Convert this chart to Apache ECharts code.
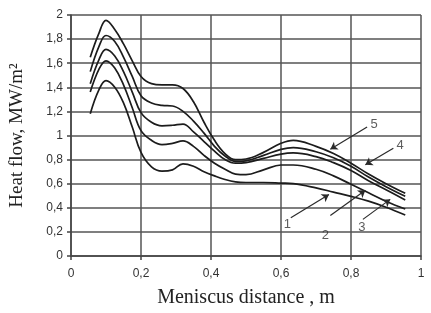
<!DOCTYPE html>
<html>
<head>
<meta charset="utf-8">
<script src="https://cdn.jsdelivr.net/npm/echarts@6/dist/echarts.min.js"></script>
<style>
  html, body { margin: 0; padding: 0; background: #fff; }
  #chart { width: 431px; height: 313px; }
</style>
</head>
<body>
<div id="chart"></div>
<script>
// Meniscus distance, m
const distance = [0.055, 0.08, 0.1, 0.125, 0.15, 0.175, 0.2, 0.23, 0.26, 0.29, 0.32, 0.35, 0.38,
  0.41, 0.44, 0.47, 0.5, 0.55, 0.6, 0.635, 0.7, 0.75, 0.8, 0.85, 0.9, 0.955];

// Heat flow, MW/m2 (curves 1..5)
const curve1 = [1.18, 1.38, 1.455, 1.40, 1.27, 1.07, 0.86, 0.74, 0.705, 0.715, 0.765, 0.745, 0.70,
  0.665, 0.635, 0.615, 0.61, 0.61, 0.605, 0.60, 0.565, 0.53, 0.495, 0.455, 0.405, 0.34];
const curve2 = [1.36, 1.55, 1.62, 1.56, 1.42, 1.23, 1.04, 0.96, 0.925, 0.935, 0.955, 0.91, 0.835,
  0.77, 0.72, 0.68, 0.675, 0.715, 0.755, 0.755, 0.72, 0.665, 0.595, 0.525, 0.455, 0.39];
const curve3 = [1.43, 1.63, 1.715, 1.66, 1.53, 1.36, 1.19, 1.11, 1.08, 1.085, 1.095, 1.03, 0.95,
  0.87, 0.80, 0.77, 0.775, 0.81, 0.845, 0.855, 0.825, 0.775, 0.71, 0.625, 0.55, 0.465];
const curve4 = [1.53, 1.74, 1.83, 1.78, 1.65, 1.49, 1.33, 1.27, 1.25, 1.245, 1.20, 1.12, 1.02,
  0.91, 0.83, 0.785, 0.79, 0.835, 0.885, 0.90, 0.865, 0.815, 0.745, 0.655, 0.575, 0.495];
const curve5 = [1.65, 1.85, 1.955, 1.88, 1.76, 1.62, 1.49, 1.43, 1.42, 1.42, 1.39, 1.28, 1.11,
  0.96, 0.85, 0.80, 0.805, 0.86, 0.935, 0.96, 0.91, 0.85, 0.77, 0.68, 0.60, 0.52];

const curveNames = ['1', '2', '3', '4', '5'];
const curves = [curve1, curve2, curve3, curve4, curve5];

// curve labels and leader arrows, in data units
const labelPos = [[0.618, 0.26], [0.727, 0.17], [0.831, 0.24], [0.94, 0.92], [0.866, 1.095]];
const arrowFrom = [[0.628, 0.318], [0.741, 0.337], [0.834, 0.304], [0.921, 0.895], [0.846, 1.07]];
const arrowTo = [[0.737, 0.51], [0.841, 0.545], [0.912, 0.47], [0.841, 0.757], [0.741, 0.886]];

const chart = echarts.init(document.getElementById('chart'), null, { renderer: 'canvas' });

const commaFmt = v => String(v).replace('.', ',');
const tickFont = { fontFamily: 'Liberation Sans, Arial, sans-serif', fontSize: 12, color: '#333' };

const series = curves.map((vals, i) => ({
  name: curveNames[i],
  type: 'line',
  smooth: 0.4,
  symbol: 'none',
  data: distance.map((x, j) => [x, vals[j]]),
  lineStyle: { color: '#1c1c1c', width: 1.7 },
  z: 3,
  markLine: {
    silent: true,
    symbol: ['none', 'arrow'],
    symbolSize: 7,
    label: { show: false },
    lineStyle: { color: '#2a2a2a', width: 1.2, type: 'solid' },
    itemStyle: { color: '#2a2a2a' },
    data: [[{ coord: arrowFrom[i] }, { coord: arrowTo[i] }]]
  }
}));

series.push({
  type: 'scatter',
  symbolSize: 0,
  silent: true,
  data: labelPos.map((p, i) => ({ value: p, name: curveNames[i] })),
  label: {
    show: true,
    position: 'inside',
    formatter: p => p.name,
    fontFamily: 'Liberation Sans, Arial, sans-serif',
    fontSize: 13,
    color: '#333'
  }
});

const option = {
  animation: false,
  backgroundColor: '#fff',
  grid: { left: 69, right: 10, top: 15, bottom: 56 },
  xAxis: {
    type: 'value',
    min: 0,
    max: 1,
    interval: 0.2,
    name: 'Meniscus distance , m',
    nameLocation: 'middle',
    nameGap: 32,
    nameTextStyle: { fontFamily: 'Liberation Serif, Times New Roman, serif', fontSize: 20, color: '#222' },
    axisLine: { lineStyle: { color: '#444', width: 1.5 } },
    axisTick: { show: true, length: 4, lineStyle: { color: '#444', width: 1.5 } },
    axisLabel: Object.assign({ margin: 12, formatter: commaFmt }, tickFont),
    splitLine: { show: true, lineStyle: { color: '#555', width: 1.5 } }
  },
  yAxis: {
    type: 'value',
    min: 0,
    max: 2,
    interval: 0.2,
    name: 'Heat flow, MW/m\u00b2',
    nameLocation: 'middle',
    nameGap: 44,
    nameTextStyle: { fontFamily: 'Liberation Serif, Times New Roman, serif', fontSize: 19, color: '#222' },
    axisLine: { show: true, lineStyle: { color: '#444', width: 1.5 } },
    axisTick: { show: true, length: 4, lineStyle: { color: '#444', width: 1.5 } },
    axisLabel: Object.assign({ margin: 8, formatter: commaFmt }, tickFont),
    splitLine: { show: true, lineStyle: { color: '#555', width: 1.5 } }
  },
  series: series
};

chart.setOption(option);
</script>
</body>
</html>
